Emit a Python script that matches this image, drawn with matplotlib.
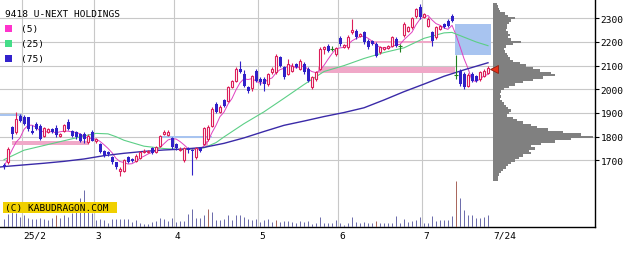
import numpy as np
import pandas as pd
import matplotlib
matplotlib.use("Agg")
import matplotlib.pyplot as plt
import matplotlib.transforms as mtransforms
from matplotlib.patches import Rectangle

# ---------------- data ----------------
title = "9418 U-NEXT HOLDINGS"
copyright_text = "(C) KABUDRAGON.COM"
legend_labels = ["(5)", "(25)", "(75)"]

opens = [1680, 1692, 1840, 1818, 1889, 1882, 1882, 1825, 1854, 1846,
         1804, 1818, 1832, 1835, 1804, 1825, 1863, 1825, 1818, 1811,
         1811, 1776, 1818, 1783, 1769, 1738, 1734, 1713, 1692, 1655,
         1655, 1713, 1706, 1699, 1709, 1736, 1737, 1751, 1737, 1762,
         1811, 1807, 1793, 1769, 1745, 1700, 1752, 1745, 1714, 1752,
         1769, 1790, 1845, 1940, 1905, 1955, 1950, 2010, 2036, 2085,
         2065, 2008, 2005, 2079, 2043, 2043, 2022, 2072, 2072, 2135,
         2093, 2065, 2079, 2107, 2086, 2107, 2086, 2008, 2043, 2086,
         2170, 2184, 2170, 2149, 2215, 2180, 2177, 2240, 2247, 2224,
         2240, 2205, 2205, 2191, 2156, 2170, 2175, 2184, 2212, 2184,
         2229, 2247, 2262, 2311, 2346, 2304, 2268, 2240, 2219, 2256,
         2276, 2290, 2311, 2060, 2079, 2065, 2015, 2065, 2057, 2043,
         2057, 2068]
highs = [1690, 1755, 1846, 1903, 1895, 1890, 1885, 1850, 1860, 1855,
         1840, 1838, 1836, 1850, 1815, 1855, 1875, 1830, 1825, 1815,
         1818, 1810, 1830, 1795, 1775, 1745, 1738, 1720, 1695, 1672,
         1705, 1720, 1712, 1725, 1740, 1748, 1745, 1755, 1760, 1808,
         1830, 1828, 1800, 1775, 1755, 1756, 1758, 1750, 1756, 1758,
         1840, 1848, 1925, 1945, 1932, 1960, 2015, 2040, 2092, 2121,
         2080, 2015, 2060, 2086, 2050, 2050, 2070, 2095, 2150, 2142,
         2100, 2128, 2110, 2112, 2128, 2115, 2093, 2057, 2079, 2177,
         2184, 2190, 2184, 2180, 2226, 2192, 2230, 2297, 2254, 2238,
         2247, 2212, 2210, 2198, 2184, 2180, 2188, 2226, 2219, 2190,
         2282, 2266, 2306, 2345, 2360, 2322, 2304, 2247, 2268, 2272,
         2280, 2297, 2318, 2145, 2086, 2072, 2068, 2072, 2062, 2079,
         2086, 2100]
lows = [1665, 1685, 1790, 1812, 1860, 1850, 1825, 1810, 1828, 1785,
        1800, 1815, 1815, 1800, 1800, 1820, 1828, 1798, 1790, 1778,
        1775, 1770, 1780, 1775, 1730, 1715, 1720, 1685, 1665, 1635,
        1650, 1688, 1692, 1695, 1705, 1733, 1733, 1728, 1733, 1758,
        1808, 1804, 1750, 1745, 1740, 1695, 1730, 1640, 1708, 1735,
        1765, 1780, 1840, 1900, 1900, 1925, 1945, 2005, 2030, 2070,
        2010, 1985, 1994, 2030, 2020, 1994, 2015, 2065, 2065, 2095,
        2043, 2060, 2075, 2088, 2080, 2065, 2030, 2001, 2036, 2080,
        2149, 2156, 2160, 2142, 2184, 2176, 2170, 2235, 2212, 2220,
        2190, 2170, 2186, 2135, 2149, 2166, 2170, 2177, 2177, 2156,
        2222, 2243, 2255, 2300, 2297, 2300, 2262, 2184, 2212, 2252,
        2258, 2262, 2283, 2043, 2015, 2001, 2008, 2030, 2030, 2036,
        2051, 2065]
closes = [1672, 1748, 1811, 1875, 1867, 1854, 1832, 1815, 1832, 1790,
          1835, 1832, 1818, 1807, 1811, 1849, 1832, 1802, 1797, 1783,
          1790, 1804, 1783, 1790, 1734, 1720, 1727, 1692, 1671, 1665,
          1700, 1695, 1699, 1720, 1734, 1741, 1741, 1731, 1755, 1804,
          1821, 1821, 1755, 1751, 1750, 1752, 1742, 1738, 1752, 1740,
          1835, 1842, 1917, 1905, 1925, 1930, 2010, 2036, 2086, 2075,
          2015, 1994, 2055, 2036, 2030, 2022, 2065, 2086, 2142, 2100,
          2051, 2107, 2100, 2093, 2121, 2072, 2036, 2051, 2072, 2170,
          2177, 2163, 2170, 2173, 2191, 2187, 2222, 2250, 2219, 2233,
          2198, 2177, 2191, 2142, 2177, 2177, 2184, 2219, 2184, 2184,
          2276, 2262, 2300, 2339, 2304, 2318, 2297, 2205, 2262, 2268,
          2262, 2268, 2290, 2060, 2022, 2008, 2062, 2036, 2036, 2072,
          2079, 2090]
volumes = [80, 130, 150, 140, 100, 120, 90, 80, 80, 90,
           80, 70, 90, 120, 90, 120, 100, 140, 180, 290,
           370, 180, 140, 70, 80, 70, 40, 80, 80, 80,
           80, 80, 50, 70, 40, 30, 30, 50, 60, 90,
           80, 60, 90, 50, 60, 60, 130, 180, 90, 90,
           120, 180, 150, 70, 70, 80, 120, 70, 120, 120,
           100, 80, 70, 80, 50, 70, 80, 50, 70, 50,
           60, 60, 50, 40, 60, 50, 60, 30, 40, 100,
           40, 40, 40, 70, 40, 20, 40, 100, 50, 40,
           50, 40, 40, 60, 40, 40, 40, 40, 110, 40,
           80, 50, 60, 70, 100, 40, 40, 110, 60, 70,
           70, 70, 110, 460, 290, 170, 120, 120, 90, 90,
           100, 120]
highlight_volume_days = [13, 51, 68, 93, 113]

month_start_idx = [5, 23, 43, 64, 84, 105]
month_labels = ["25/2", "3", "4", "5", "6", "7"]
last_label = "7/24"

ma25_idx = [0, 5, 10, 15, 20, 23, 26, 28, 30, 35, 40, 45, 50, 53, 55, 60, 65,
            70, 75, 80, 85, 90, 95, 100, 105, 110, 112, 115, 118, 121]
ma25_val = [1703, 1743, 1763, 1783, 1803, 1814, 1812, 1800, 1785, 1760, 1750,
            1745, 1753, 1775, 1799, 1855, 1905, 1962, 2020, 2075, 2100, 2130,
            2155, 2175, 2215, 2238, 2240, 2220, 2200, 2184]
ma75_idx = [-1, 0, 5, 10, 15, 20, 25, 30, 35, 40, 45, 50, 55, 60, 65, 70, 75,
            80, 85, 90, 95, 100, 105, 110, 115, 121]
ma75_val = [1672, 1674, 1681, 1688, 1696, 1706, 1720, 1730, 1738, 1744, 1748,
            1755, 1772, 1795, 1822, 1848, 1866, 1885, 1902, 1922, 1955, 1990,
            2022, 2055, 2082, 2112]

profile_price = list(range(1620, 2370, 10))
profile_vol = [5, 5, 6, 8, 10, 13, 15, 18, 22, 26, 30, 38, 36, 42, 38, 48, 62,
               78, 100, 88, 70, 55, 44, 38, 30, 24, 20, 14, 16, 18, 15, 13, 11,
               9, 7, 8, 7, 8, 11, 16, 22, 30, 40, 50, 62, 58, 47, 40, 33, 27,
               20, 17, 15, 14, 12, 11, 13, 20, 28, 18, 15, 17, 15, 13, 14, 14,
               16, 18, 22, 15, 12, 7, 6, 5, 4]

price_ticks = [1700, 1800, 1900, 2000, 2100, 2200, 2300]
current_price = 2085

# zones: (start index, end index, low price, high price)
pink_zones = [(2.0, 21.0, 1765, 1782), (78.5, 112.8, 2070, 2093),
              (91.5, 107.3, 2195, 2205), (49.8, 51.0, 1762, 1780)]
blue_zones = [(-1.0, 4.5, 1888, 1896), (39.5, 52.0, 1796, 1804),
              (112.8, 121.8, 2145, 2276)]

# ---------------- style ----------------
RED = "#dc1e5a"
BLUE = "#3020c8"
DOJI = "#208020"
MA5_C = "#e040c0"
MA25_C = "#5ccf86"
MA75_C = "#3a2aa8"
VOL_C = "#6a6aaa"
VOL_H = "#a8645a"
GRID = "#c8c8c8"
FONT = "DejaVu Sans Mono"
FS = 6.8

W, H = 640, 255
fig = plt.figure(figsize=(W / 100, H / 100), dpi=100, facecolor="white")

n = len(closes)
x = np.arange(n)
xlim = (-1, 147.75)
ylim = (1419, 2381)

ax = fig.add_axes([0, 27 / H, 595 / W, 228 / H])
ax.set_xlim(*xlim)
ax.set_ylim(*ylim)
ax.set_facecolor("white")
for s in ["top", "left"]:
    ax.spines[s].set_visible(False)
for s in ["right", "bottom"]:
    ax.spines[s].set_color("black")
    ax.spines[s].set_linewidth(1.0)

ax.yaxis.tick_right()
ax.set_yticks(price_ticks)
ax.set_yticklabels([str(t) for t in price_ticks], fontfamily=FONT, fontsize=FS)
ax.tick_params(axis="y", direction="out", length=3, width=0.8, pad=1, colors="black")
ax.set_xticks([])
ax.grid(axis="y", color=GRID, lw=0.8, zorder=0)
ax.set_axisbelow(True)
for m in month_start_idx:
    ax.axvline(m - 0.5, color=GRID, lw=0.8, zorder=0)

# zones
for (a, b, lo, hi) in pink_zones:
    ax.add_patch(Rectangle((a, lo), b - a, hi - lo, facecolor="#f0a8c8",
                           edgecolor="none", zorder=1))
for (a, b, lo, hi) in blue_zones:
    ax.add_patch(Rectangle((a, lo), b - a, hi - lo, facecolor="#a8c4f0",
                           edgecolor="none", zorder=1))

# moving averages
ma5 = pd.Series(closes).rolling(5, min_periods=1).mean().values
ax.plot(x, ma5, color=MA5_C, lw=0.7, zorder=2)
ax.plot(ma25_idx, ma25_val, color=MA25_C, lw=0.8, zorder=2)
ax.plot(ma75_idx, ma75_val, color=MA75_C, lw=1.0, zorder=2)

# candles
o = np.array(opens, float); c = np.array(closes, float)
h = np.array(highs, float); l = np.array(lows, float)
for i in range(n):
    if c[i] > o[i]:
        col = RED
    elif c[i] < o[i]:
        col = BLUE
    else:
        col = DOJI
    ax.vlines(i, l[i], h[i], color=col, lw=0.8, zorder=3)
    if col == RED:
        ax.bar(i, c[i] - o[i], bottom=o[i], width=0.5, facecolor="white",
               edgecolor=RED, lw=0.8, zorder=4)
    elif col == BLUE:
        ax.bar(i, o[i] - c[i], bottom=c[i], width=0.75, facecolor=BLUE,
               edgecolor=BLUE, lw=0.0, zorder=4)
    else:
        ax.hlines(c[i], i - 0.4, i + 0.4, color=DOJI, lw=0.8, zorder=4)

# x labels
trans = mtransforms.blended_transform_factory(ax.transData, ax.transAxes)
for m, lab in zip(month_start_idx, month_labels):
    ax.text(m - 0.25, -4 / 228, lab, transform=trans, ha="left", va="top",
            fontfamily=FONT, fontsize=FS)
ax.text(n + 0.25, -4 / 228, last_label, transform=trans, ha="left", va="top",
        fontfamily=FONT, fontsize=FS)

# volume
vax = fig.add_axes([0, 27 / H, 595 / W, 50 / H])
vax.set_xlim(*xlim)
vax.set_ylim(0, 500)
vax.patch.set_alpha(0)
vax.axis("off")
vcol = [VOL_H if i in highlight_volume_days else VOL_C for i in range(n)]
vax.vlines(x, 0, volumes, colors=vcol, lw=0.7)

# volume-by-price profile
pax = fig.add_axes([493 / W, 27 / H, 102 / W, 228 / H])
pax.set_xlim(0, 102)
pax.set_ylim(*ylim)
pax.patch.set_alpha(0)
pax.axis("off")
pax.barh(profile_price, profile_vol, height=10, left=0, color="#808080",
         edgecolor="none")
pax.plot([0.5], [current_price], marker="<", ms=5.5, color="#e83018",
         mec="#902010", mew=0.6, clip_on=False, zorder=6)

# title and legend
fig.text(5 / W, 1 - 14.5 / H, title, ha="left", va="center",
         fontfamily=FONT, fontsize=FS)
for k, (lab, col) in enumerate(zip(legend_labels, ["#ff33cc", "#44dd88", "#3322cc"])):
    yc = 29.5 + 15 * k
    fig.add_artist(Rectangle((5 / W, 1 - (yc + 3.5) / H), 7 / W, 7 / H,
                             transform=fig.transFigure, facecolor=col,
                             edgecolor="none"))
    fig.text(21 / W, 1 - yc / H, lab, ha="left", va="center",
             fontfamily=FONT, fontsize=FS)

# copyright box
fig.add_artist(Rectangle((3 / W, 1 - 213.5 / H), 114 / W, 10.5 / H,
                         transform=fig.transFigure, facecolor="#f0d000",
                         edgecolor="none", zorder=5))
fig.text(5 / W, 1 - 208.3 / H, copyright_text, ha="left", va="center",
         fontfamily=FONT, fontsize=FS, zorder=6)

fig.savefig("out.png", dpi=100, facecolor="white")
